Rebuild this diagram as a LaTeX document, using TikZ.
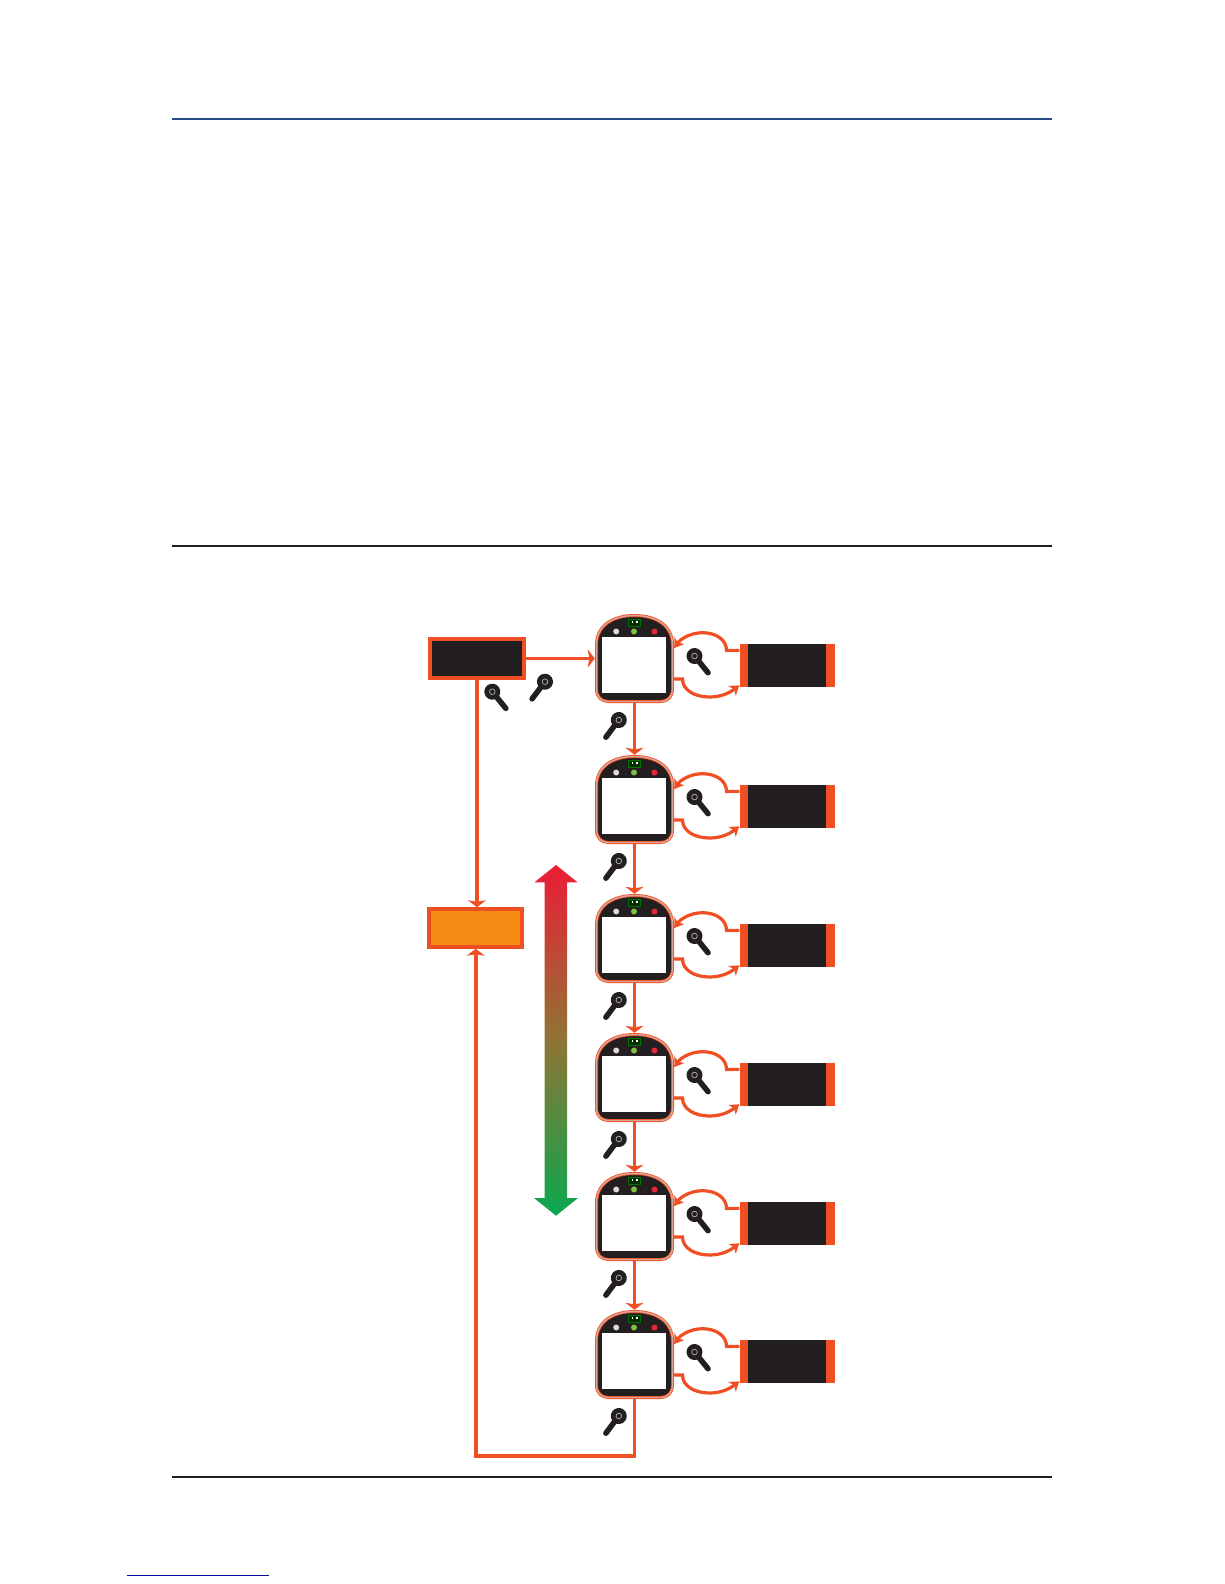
\documentclass[tikz,border=0pt]{standalone}
\usepackage{tikz}
\usetikzlibrary{arrows.meta,positioning,shadings}
\definecolor{flowOrange}{HTML}{F04E23}
\definecolor{panelDark}{HTML}{231F20}
\definecolor{amberFill}{HTML}{F68B14}
\definecolor{edgePink}{HTML}{D9A797}
\definecolor{ruleBlue}{HTML}{264A86}
\definecolor{linkBlue}{HTML}{0A0A9C}
\definecolor{levelRed}{HTML}{ED1C36}
\definecolor{levelMid}{HTML}{8F7534}
\definecolor{levelGreen}{HTML}{0AA74F}
\definecolor{lampGreen}{HTML}{7AC143}
\definecolor{lampRed}{HTML}{E2283A}
\newcommand{\deviceShape}{(-38,31) .. controls (-38,11) and (-21,1.5) .. (0,1.5) .. controls (21,1.5) and (38,11) .. (38,31) -- (38,75) .. controls (38,83) and (33,87.5) .. (26,87.5) -- (-26,87.5) .. controls (-33,87.5) and (-38,83) .. (-38,75) -- cycle}

\begin{document}
\begin{tikzpicture}[
    x=1pt, y=-1pt,
    link/.style={
        -{Stealth[length=7pt, width=18pt, inset=1.5pt]}, line width=3.6pt, draw=flowOrange
    },
    loopLink/.style={
        -{Stealth[length=9pt, width=12pt, inset=2.5pt]}, line width=3.2pt, draw=flowOrange
    },
    mainBox/.style={
        rectangle, draw=flowOrange, line width=4pt, fill=panelDark,
        minimum width=94pt, minimum height=39pt, inner sep=0pt
    },
    amberBox/.style={
        rectangle, draw=flowOrange, line width=3.5pt, fill=amberFill,
        minimum width=93pt, minimum height=38pt, inner sep=0pt
    },
    deviceBody/.style={
        rectangle, minimum width=79pt, minimum height=89pt, inner sep=0pt
    },
    stripBox/.style={
        rectangle, fill=flowOrange, minimum width=95pt, minimum height=42.7pt, inner sep=0pt
    },
    stripCore/.style={
        rectangle, fill=panelDark, minimum width=78pt, minimum height=42.7pt, inner sep=0pt
    },
    lamp/.style={
        circle, fill=#1, minimum size=6pt, inner sep=0pt
    },
    rule/.style={
        line width=2pt, draw=panelDark
    },
    keyFob/.pic={
        \draw[line width=5.5pt, line cap=round, draw=panelDark] (0,0) -- (21.5,0);
        \fill[panelDark] (0,0) circle (8pt);
        \draw[line width=0.7pt, draw=gray!60] (0,0) circle (2.8pt);
    },
    device/.pic={
        \fill[panelDark] \deviceShape;
        \draw[line width=3pt, draw=flowOrange] \deviceShape;
        \draw[line width=1.4pt, draw=edgePink] \deviceShape;
        \node[deviceBody] (-body) at (0,44.5) {};
        % Screen
        \fill[white] (-32.7,22.7) rectangle (31.7,79.3);
        % Indicator and lamps
        \draw[draw=green!45!black, fill=green!18!black, line width=0.7pt] (-6,5) rectangle (6,12);
        \fill[white] (-3,7.4) rectangle (-1.7,8.7);
        \fill[white] (1.7,7.4) rectangle (3,8.7);
        \node[lamp=gray!30] (-lampA) at (-18.3,17.5) {};
        \node[lamp=lampGreen] (-lampB) at (-0.5,17.5) {};
        \node[lamp=lampRed] (-lampC) at (20,17.5) {};
        % Side panel
        \node[stripBox] (-box) at (152.5,51.35) {};
        \node[stripCore] (-core) at (-box.center) {};
        % Side loops
        \draw[loopLink] ([yshift=15pt]-box.west) -- (92,36.4) .. controls (92,26) and (82,18.7) .. (68,18.7) .. controls (56,18.7) and (46,25) .. ([yshift=10.5pt]-body.east);
        \draw[loopLink] ([yshift=-20.5pt]-body.east) -- (48,65) .. controls (48,76) and (60,83) .. (75,83) .. controls (88,83) and (96,78) .. ([yshift=-20pt]-box.west);
        % Keys
        \pic[rotate=-51] at (60,42) {keyFob};
        \pic[rotate=-127] at (-15.7,106) {keyFob};
    }
]
\useasboundingbox (0,0) rectangle (1224,1584);

% Rules
\coordinate (ruleTopL) at (172,119);
\coordinate (ruleTopR) at (1052,119);
\coordinate (ruleMidL) at (172,545.5);
\coordinate (ruleMidR) at (1052,545.5);
\coordinate (ruleLowL) at (172,1476.7);
\coordinate (ruleLowR) at (1052,1476.7);
\coordinate (linkL) at (127,1575.3);
\coordinate (linkR) at (269,1575.3);
\draw[rule, draw=ruleBlue] (ruleTopL) -- (ruleTopR);
\draw[rule] (ruleMidL) -- (ruleMidR);
\draw[rule] (ruleLowL) -- (ruleLowR);
\draw[line width=1pt, draw=linkBlue] (linkL) -- (linkR);

% Left boxes
\node[mainBox] (startBox) at (477,658.5) {};
\node[amberBox] (amberBox) at (475.7,928) {};

% Devices
\pic (dev1) at (634.5,614) {device};
\pic (dev2) at (634.5,755) {device};
\pic (dev3) at (634.5,894) {device};
\pic (dev4) at (634.5,1033) {device};
\pic (dev5) at (634.5,1172) {device};
\pic (dev6) at (634.5,1310) {device};

% Keys beside the start box
\pic[rotate=-51] at (492.3,691.7) {keyFob};
\pic[rotate=-127] at (545,681.7) {keyFob};

% Level arrow
\shade[top color=levelRed, bottom color=levelGreen, middle color=levelMid]
    (556,865) -- (577.5,882.3) -- (567,882.3) -- (567,1198) -- (578,1198) -- (556,1215.7)
    -- (534,1198) -- (544.5,1198) -- (544.5,882.3) -- (534.5,882.3) -- cycle;

% Main flow
\draw[link] (startBox.east) -- (dev1-body.west);
\draw[link] (startBox.south) -- (startBox.south |- amberBox.north);
\draw[link] (dev1-body.south) -- (dev2-body.north);
\draw[link] (dev2-body.south) -- (dev3-body.north);
\draw[link] (dev3-body.south) -- (dev4-body.north);
\draw[link] (dev4-body.south) -- (dev5-body.north);
\draw[link] (dev5-body.south) -- (dev6-body.north);
\draw[link] (dev6-body.south) -- ++(0,57) -| (amberBox.south);

\end{tikzpicture}
\end{document}
